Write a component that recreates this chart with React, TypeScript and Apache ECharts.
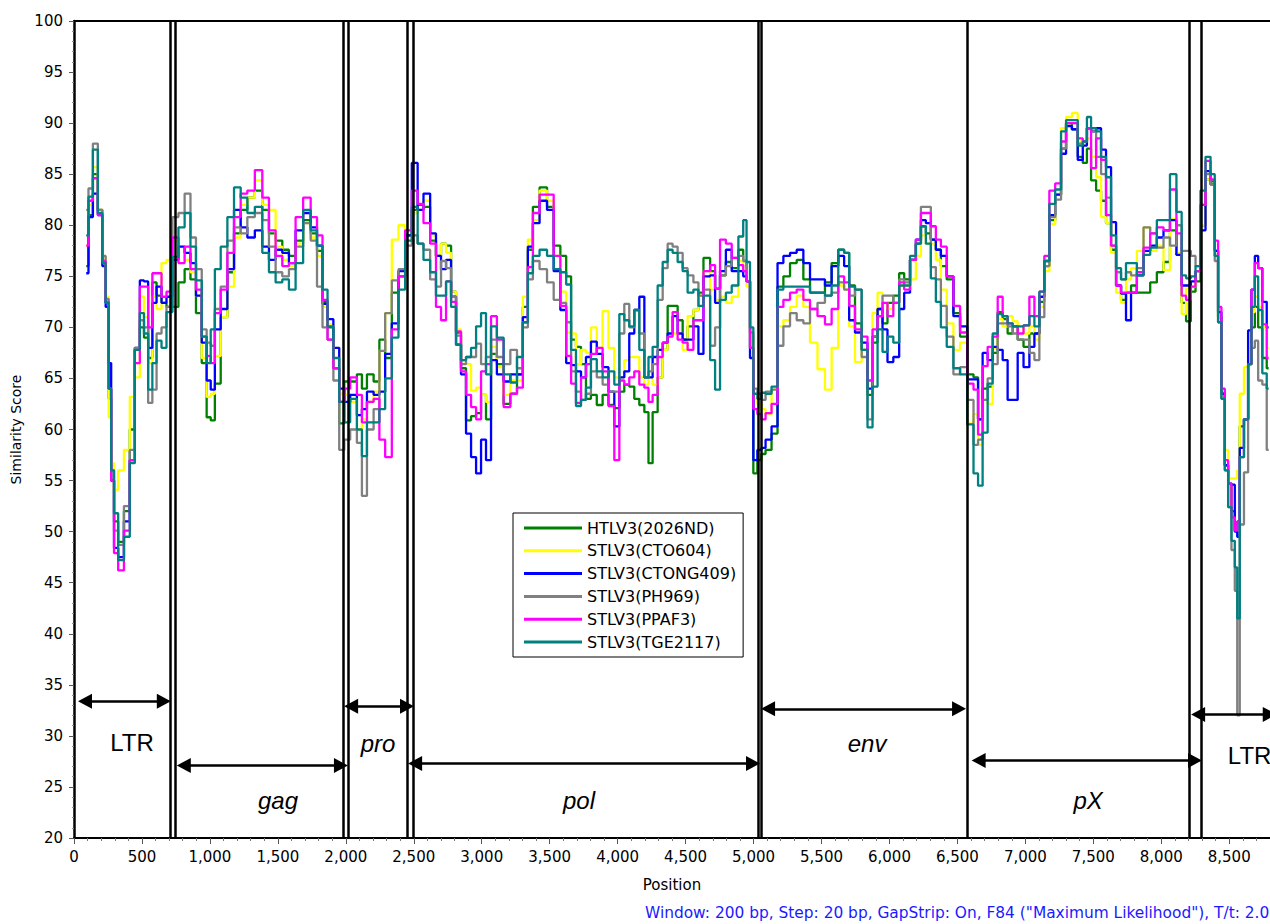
import React, { useEffect, useRef } from "react";
import * as echarts from "echarts";

// Window centre positions (bp)
const POSITIONS = [
  90, 123, 155, 196, 221, 245, 265, 282, 307, 343,
  392, 429, 466, 503, 527, 564, 589, 626, 662, 699,
  750, 787, 841, 873, 922, 958, 994, 1018, 1055, 1104,
  1153, 1202, 1251, 1300, 1361, 1410, 1459, 1508, 1557, 1606,
  1655, 1717, 1766, 1810, 1847, 1884, 1933, 1970, 2007, 2057,
  2106, 2131, 2180, 2229, 2265, 2314, 2363, 2412, 2461, 2510,
  2547, 2596, 2645, 2682, 2719, 2756, 2793, 2829, 2866, 2903,
  2940, 2977, 3013, 3050, 3087, 3136, 3186, 3235, 3284, 3321,
  3358, 3395, 3456, 3505, 3554, 3603, 3640, 3675, 3712, 3749,
  3785, 3822, 3871, 3908, 3957, 3994, 4031, 4067, 4104, 4141,
  4178, 4215, 4239, 4276, 4313, 4350, 4386, 4423, 4460, 4497,
  4533, 4582, 4607, 4656, 4705, 4729, 4778, 4815, 4864, 4913,
  4935, 4962, 4986, 5011, 5045, 5070, 5107, 5158, 5195, 5244,
  5293, 5342, 5391, 5440, 5501, 5550, 5599, 5648, 5685, 5722,
  5771, 5820, 5857, 5894, 5931, 5967, 6004, 6053, 6090, 6127,
  6176, 6213, 6250, 6286, 6323, 6360, 6397, 6446, 6495, 6544,
  6600, 6637, 6667, 6704, 6741, 6778, 6815, 6851, 6888, 6925,
  6962, 7011, 7048, 7085, 7121, 7158, 7195, 7244, 7281, 7318,
  7367, 7404, 7441, 7465, 7502, 7539, 7575, 7612, 7649, 7686,
  7722, 7759, 7796, 7845, 7894, 7943, 7992, 8041, 8087, 8136,
  8164, 8201, 8234, 8270, 8307, 8344, 8381, 8406, 8430, 8455,
  8480, 8504, 8529, 8553, 8565, 8590, 8627, 8651, 8676, 8701,
  8725, 8762, 8790,
];

const HTLV3_2026ND = [
  76, 81, 85, 81.5, 76.3, 72.4, 63, 55, 51, 49,
  52, 60, 67.8, 70, 69, 67, 74.4, 73.1, 72.4, 72,
  72, 74.4, 75.7, 74.7, 71.4, 66.5, 61.2, 60.9, 64.5, 71,
  75.4, 79.2, 81.5, 82.7, 83.4, 81.5, 79.2, 78.5, 77.6, 77,
  78.5, 80.5, 79.2, 77.5, 72.5, 70, 66, 60.6, 64.7, 64.7,
  65.4, 64, 65.4, 64.7, 68.8, 67, 73.4, 75, 79, 81.5,
  82, 81.8, 78.5, 77, 78.2, 78, 73.5, 69.5, 66, 60.9,
  61.3, 61.6, 63.4, 61, 67.4, 66.4, 62.5, 63.5, 65.4, 72,
  77.6, 81.8, 83.7, 81.8, 78, 77, 75, 68.8, 68.1, 66.4,
  63, 63.4, 62.4, 63.4, 62.4, 62.1, 63.7, 64.4, 64.2, 63,
  62.4, 61.7, 56.7, 61.7, 65.1, 67.8, 72.1, 72.1, 70.7, 68.8,
  70.1, 71.7, 73.4, 76.8, 75.5, 73.8, 75.1, 76.4, 75.8, 77.6,
  76.5, 74.5, 68, 55.7, 57, 57.6, 58, 59.6, 74, 75,
  76.3, 76.6, 74.7, 73.4, 73.4, 74.4, 76.3, 77.6, 77.3, 74.1,
  70.4, 67.8, 63.4, 68.5, 71.8, 70.4, 72.4, 73.1, 75.3, 74.7,
  76.6, 78.2, 79.9, 79.2, 78.6, 77.6, 76, 74.7, 71.4, 69.1,
  65.4, 65.1, 61, 64, 64.2, 67.5, 71.5, 70.8, 69.4, 70.1,
  68.8, 68.1, 69.4, 69.4, 72.5, 76, 80.5, 83, 87.5, 90,
  89.4, 86.7, 86.1, 87.5, 84.4, 83.4, 82.4, 80.2, 77.6, 74.1,
  72.7, 73.4, 74.1, 73.4, 73.4, 74.4, 75.4, 76.4, 79.5, 77.1,
  72.4, 70.6, 73.5, 74.5, 80, 84.5, 84.3, 77.5, 71, 63.5,
  56.5, 54.7, 52, 50.1, 51, 60.3, 61, 66.4, 70, 72,
  70, 67, 66,
];

const STLV3_CTO604 = [
  78, 82, 85.7, 81.5, 77, 73, 61.2, 56.7, 54.1, 56,
  58, 63.2, 65.1, 73, 71, 66.5, 73, 71.8, 76.3, 76.6,
  78.5, 77.9, 76.6, 75.4, 73.1, 67, 63.2, 63.5, 67.2, 71,
  74, 78.8, 82, 82.7, 84.4, 82, 81.5, 77.9, 76.6, 76,
  78.2, 80.2, 78.8, 77, 72, 70.3, 68, 63.5, 63.4, 62.7,
  60, 61, 62.7, 63.7, 67.7, 71.4, 78.6, 80, 79.5, 81.2,
  81.5, 82.4, 79, 77, 78.2, 77.3, 73.5, 69.8, 66.7, 66.4,
  63.8, 64.1, 63.4, 62.7, 68.1, 66.1, 63.4, 64.8, 64.8, 73,
  78.6, 80.5, 83.4, 82.4, 77, 73.5, 69.5, 69.4, 66.4, 67.8,
  67.5, 70, 68, 71.6, 68, 65.1, 65.1, 66.8, 67.1, 67.1,
  65.1, 64.4, 65.1, 64.4, 65.1, 67.8, 69.1, 69.4, 69.4, 67.8,
  71.1, 71.7, 73.1, 75.5, 73.7, 72.7, 73, 72.4, 73, 76.5,
  75.5, 74, 69, 63, 62.5, 62, 61.5, 63.9, 70.1, 70.7,
  72, 73.1, 72, 68.5, 65.9, 63.9, 68, 74.1, 73.7, 70.1,
  66.6, 67.8, 64.8, 71.4, 73.4, 72.4, 71.8, 72.4, 74.1, 74.1,
  74.7, 77, 79, 78.2, 78.2, 76.6, 73.7, 70.4, 67.8, 68.5,
  60.6, 61.5, 58.5, 62.9, 62.5, 68, 70.8, 70.1, 71.1, 70.6,
  70.1, 69.4, 70.1, 68.8, 72, 75.5, 80.1, 83, 89.5, 90.6,
  91, 88.2, 88, 88.5, 86.7, 84.7, 80.8, 80.2, 77.3, 73.4,
  72.4, 74.7, 75.8, 77.5, 79.8, 77.5, 78, 75.6, 80.6, 77.3,
  71.3, 73.8, 74, 75.5, 80, 84.5, 84, 77, 71, 64,
  58, 55.2, 55.2, 55.2, 56, 63.5, 66.1, 69.7, 71.5, 73,
  72, 70, 68,
];

const STLV3_CTONG409 = [
  75.3, 80.8, 83.1, 81, 76, 72, 66.5, 55, 48.4, 47.5,
  51, 57, 68, 74.6, 74.5, 68, 72.4, 74, 72.4, 73,
  76.6, 77.9, 77.3, 76.3, 73.1, 68.5, 64.8, 63.9, 69.8, 71.8,
  75.7, 81.5, 79.8, 78.8, 79.5, 77.9, 76.6, 77.6, 77.3, 76.3,
  79.5, 81.2, 79.8, 78, 72.3, 70.8, 68, 64, 62.7, 63.4,
  61.4, 62, 63.7, 63.4, 63.7, 67.4, 70.4, 75.5, 79, 86.1,
  81.5, 83.1, 79.2, 77, 75.7, 76.6, 73, 68.3, 65.4, 59.6,
  57.3, 55.7, 59, 57, 66.8, 65.4, 64.7, 65.4, 65.4, 71,
  77.9, 80.2, 82.4, 81.5, 75.5, 71.7, 66.5, 66.3, 65.7, 65.1,
  67.1, 68.6, 67.4, 66.1, 63.7, 60.3, 65.1, 65.7, 69.4, 71.7,
  73, 65.1, 65.1, 67.1, 67.8, 68.5, 69.4, 71.1, 69.4, 68.8,
  68.8, 70.1, 67.4, 75, 75.1, 72.4, 75.5, 77.6, 75.5, 75.5,
  75, 74.5, 67, 57, 58, 58.2, 59, 60.3, 76.3, 77,
  77.3, 77.6, 76.3, 74.7, 74.7, 74.1, 76, 77, 76, 70.7,
  69.5, 68.5, 64, 69.1, 71.8, 69.8, 66.6, 67.1, 71.8, 73.4,
  76.6, 78.6, 80.5, 80.2, 78.6, 77.6, 77, 75, 71.1, 70.1,
  64.9, 64.9, 61, 67.5, 66.8, 68.1, 67.8, 66.8, 62.9, 62.9,
  67.5, 66.1, 68.1, 69.4, 73, 76.5, 81, 83, 87, 89.7,
  89.4, 86.4, 87.8, 89.5, 89.2, 89.5, 87.4, 85.7, 80.3, 74.1,
  73.3, 70.7, 73.4, 75.1, 77.5, 78, 78.8, 79.5, 80.5, 77.1,
  74.1, 74.1, 74.5, 75.5, 79.5, 85.3, 84, 77.5, 71.5, 63.5,
  56.5, 54.7, 54.6, 50, 49.5, 58.2, 61, 69.7, 73.7, 77,
  75.8, 72.5, 70,
];

const STLV3_PH969 = [
  81.5, 83.6, 88, 81.5, 77, 72.8, 64, 56, 50.1, 48.7,
  52.5, 58, 68, 70.7, 70, 62.6, 63.9, 69.4, 70, 72,
  80.8, 81.2, 83.1, 78.8, 75.7, 69.8, 68.5, 68.2, 71.8, 74,
  78.5, 79.8, 79.2, 80.8, 81.2, 80.5, 77.9, 75.4, 75, 75.7,
  77.9, 80.2, 78.5, 74, 70, 68.8, 64.8, 58, 59, 60,
  58.7, 53.5, 60, 62, 67.7, 71.4, 74.6, 75.7, 78, 79,
  78.2, 77.6, 74.7, 74, 76.5, 75.8, 73, 69.2, 66.4, 67.1,
  67.1, 68.4, 66.4, 67.1, 68.8, 67.1, 66.4, 67.8, 66, 70,
  74.7, 76.5, 75.7, 74.4, 72.7, 72.4, 70.5, 65.7, 63.7, 62.9,
  63.5, 65.7, 65.1, 64.4, 63.7, 63.7, 69.4, 72.3, 70, 71.7,
  69.4, 65.1, 65.7, 66.4, 72.7, 75.8, 78.2, 77.9, 77.3, 75.8,
  75.1, 74.4, 73.1, 73.7, 68.2, 70, 75.1, 76, 76.8, 77,
  76.5, 74.5, 69.5, 64, 63.5, 62.9, 63.7, 63.9, 68.2, 70.1,
  71.4, 70.7, 70.4, 71.8, 72.4, 73.1, 73.4, 74.4, 73.7, 73.1,
  73.7, 67.1, 61, 69.1, 71.1, 73.1, 73.1, 72.4, 74.7, 74.4,
  76.6, 78.2, 81.8, 81.8, 75.9, 74.7, 72.1, 69.1, 65.4, 66.1,
  62.9, 58.5, 59, 62.9, 65, 66.4, 70.4, 70.4, 70.1, 69.4,
  68.8, 68.8, 67.5, 66.8, 71, 76, 80.8, 82.5, 87.5, 90,
  90, 88, 88.2, 89.5, 89.2, 86.7, 85, 82.7, 78, 75.4,
  74.7, 75.4, 75.1, 75.8, 79.8, 79.2, 77.8, 78.8, 78, 80,
  77.5, 77.5, 77, 76, 82, 85, 84, 76.5, 70.5, 63,
  56, 52.4, 48.2, 44.2, 32, 50.7, 55.8, 66.4, 68, 68.7,
  64.8, 64.4, 58,
];

const STLV3_PPAF3 = [
  78, 82.4, 84.6, 81, 76.5, 72.5, 64, 55, 47.9, 46.2,
  50.1, 57, 66.5, 74, 74, 70, 75.3, 75.3, 73, 73.5,
  78.8, 76.3, 77.9, 75.7, 73.7, 69.1, 67.2, 66.5, 71.4, 73.7,
  77.3, 80.8, 83.1, 83.4, 85.4, 82.7, 79.5, 77, 76, 76.3,
  80.8, 82.7, 80.8, 79, 72.7, 68.8, 66, 62.7, 64, 65.1,
  63.4, 60.7, 62.7, 63, 59, 57.3, 69.8, 75, 79.5, 83.4,
  82.1, 80.2, 78.2, 72, 70.7, 74.5, 72.5, 69.6, 65.7, 63.4,
  62.2, 61, 65.7, 66.4, 71.1, 68.8, 62.2, 63.5, 64.1, 70.5,
  75.9, 81.2, 83, 83, 77, 72.1, 67.2, 64.5, 62.6, 65.1,
  66.4, 67.4, 68, 65.7, 62.3, 57, 64.8, 64.4, 65.1, 65.7,
  64.4, 64.1, 62.7, 63.4, 67.1, 68.5, 69.1, 71.5, 68.8, 68.5,
  67.8, 70.7, 70.7, 75.5, 76.1, 73.8, 78.6, 78.2, 76.8, 76.1,
  75.5, 74.5, 68, 62, 61.5, 61, 61.6, 62.5, 72, 72.7,
  73.4, 73.7, 72.7, 71.8, 71.1, 70.3, 71.8, 75, 74.4, 72.1,
  69.8, 69.1, 64.8, 69.8, 71.1, 72.4, 71.1, 72.4, 74.4, 73.7,
  76.6, 78.6, 81.2, 81.2, 79.9, 78.6, 77.9, 75, 72.1, 69.5,
  64.5, 63.9, 59.5, 66.2, 68.1, 69.1, 73, 71.1, 70.4, 70.1,
  69.4, 70.2, 73, 71.1, 73.5, 77, 83.4, 84.1, 88.2, 90,
  90, 88.5, 88.2, 89.5, 85.6, 88.5, 86.4, 81, 78, 74.1,
  73.4, 73.4, 73.4, 75.4, 77.8, 79.2, 79.8, 79.5, 83.5, 79.2,
  73.1, 72.7, 74, 75.5, 82, 86.3, 84.5, 78.5, 72, 64,
  57, 54.7, 51.4, 50.1, 51, 57.3, 61, 66.4, 73.7, 76.3,
  75.8, 70.3, 67,
];

const STLV3_TGE2117 = [
  79, 82.8, 87.4, 81.2, 76.3, 72.4, 64, 56, 51.8, 47.2,
  49.5, 56.7, 67.8, 71.4, 69.4, 63.9, 66.5, 68.7, 68, 71.5,
  76.9, 79.8, 81.2, 77.9, 74.6, 69.1, 66.5, 69.8, 75.7, 77.9,
  80.8, 83.7, 82.7, 81.2, 81.8, 77.3, 75.4, 74.4, 74.7, 73.7,
  76.3, 81.5, 79.5, 78, 73.7, 70.1, 67, 62.7, 60.7, 63,
  60, 57.4, 60.7, 60.7, 62, 65, 69, 73.7, 78.5, 81.8,
  78.2, 76.6, 75.4, 73.1, 73.1, 74.5, 72, 68.3, 66.8, 67.1,
  68, 70.1, 71.4, 65.4, 70.1, 69, 65.4, 64.6, 67.1, 70.5,
  75.3, 77, 77.6, 77, 75.7, 75.4, 74.2, 67.8, 62.3, 62.9,
  64.1, 66.9, 65.7, 65.1, 65.7, 64.4, 71.3, 70.7, 70.1, 71.7,
  67.8, 65.1, 67.1, 68.1, 74.1, 76.4, 77.6, 77.3, 76.4, 75.5,
  73.4, 73.7, 72.1, 73.1, 66.8, 63.9, 72.7, 73.4, 74.1, 78.9,
  80.5, 76.4, 70, 63.5, 63, 63.6, 63.5, 64.2, 73.7, 74,
  74, 74, 74, 73.4, 73.4, 73.1, 74.1, 77.6, 77.3, 74,
  73.7, 67.8, 60.2, 64.2, 69.8, 67.6, 69.1, 68.5, 74.1, 74.1,
  77, 78.2, 79.9, 78.2, 74.8, 72.5, 70, 68.1, 66, 65.4,
  60.5, 55.7, 54.5, 59.7, 64.5, 69.4, 71.3, 71.1, 70.4, 70.1,
  70.1, 70.2, 71.1, 70.1, 73.5, 76.5, 82.1, 83.5, 89.2, 90.3,
  90.3, 87.8, 88.2, 90.6, 89.5, 89.2, 86.7, 84.7, 79, 75.8,
  74.7, 76.3, 76.3, 75.1, 77.1, 77.8, 80.5, 80.5, 85, 81.3,
  75.1, 74.8, 75, 76, 83.4, 86.7, 85, 77, 70.5, 63,
  56, 52.4, 49.1, 46.5, 41.5, 57.3, 61, 66.4, 72, 75,
  71.7, 65.5, 64,
];

const SERIES_NAMES = [
  "HTLV3(2026ND)",
  "STLV3(CTO604)",
  "STLV3(CTONG409)",
  "STLV3(PH969)",
  "STLV3(PPAF3)",
  "STLV3(TGE2117)",
];
const SERIES_VALUES = [
  HTLV3_2026ND,
  STLV3_CTO604,
  STLV3_CTONG409,
  STLV3_PH969,
  STLV3_PPAF3,
  STLV3_TGE2117,
];
const SERIES_COLORS = ["#008000", "#ffff00", "#0000ff", "#808080", "#ff00ff", "#008080"];

// Genome region boundaries (bp)
const REGION_BOUNDARIES = [710, 744, 1978, 2017, 2452, 2498, 5035, 5058, 6576, 8207, 8292];

// Double-headed arrows: start / end (bp) at a similarity level
const ARROW_FROM = [29, 756, 1987, 2458, 5055, 6604, 8219];
const ARROW_TO = [713, 2016, 2502, 5048, 6564, 8300, 8850];
const ARROW_LEVEL = [33.4, 27.1, 32.9, 27.3, 32.65, 27.6, 32.1];

// Region names
const REGION_NAMES = ["LTR", "gag", "pro", "pol", "env", "pX", "LTR"];
const REGION_NAME_POS = [427, 1501, 2237, 3716, 5835, 7462, 8650];
const REGION_NAME_LEVEL = [29.4, 23.7, 29.3, 23.7, 29.3, 23.7, 28.1];
const REGION_NAME_ITALIC = [false, true, true, true, true, true, false];

const X_MIN = 0;
const X_MAX = 8800;
const X_INTERVAL = 500;
const Y_MIN = 20;
const Y_MAX = 100;
const Y_INTERVAL = 5;

const FOOTER = 'Window: 200 bp, Step: 20 bp, GapStrip: On, F84 ("Maximum Likelihood"), T/t: 2.0';

const ARROW_INSET = 52; // half arrow head length in bp units

export default function App() {
  const ref = useRef<HTMLDivElement>(null);

  useEffect(() => {
    if (!ref.current) return;
    const chart = echarts.init(ref.current, null, { renderer: "svg" });
    const font = "DejaVu Sans";

    const dataSeries = SERIES_NAMES.map((name, i) => ({
      name,
      type: "line",
      data: POSITIONS.map((p, j) => [p, SERIES_VALUES[i][j]]),
      showSymbol: false,
      symbol: "none",
      step: "middle",
      lineStyle: { color: SERIES_COLORS[i], width: 2.3 },
      itemStyle: { color: SERIES_COLORS[i] },
      silent: true,
      z: 2,
    }));

    const annotationSeries = {
      type: "line",
      data: [],
      silent: true,
      z: 5,
      markLine: {
        silent: true,
        animation: false,
        symbol: ["none", "none"],
        label: { show: false },
        lineStyle: { color: "#000", width: 2.5, type: "solid" },
        emphasis: { disabled: true },
        data: REGION_BOUNDARIES.map((x) => ({ xAxis: x })),
      },
    };

    const arrowSeries = {
      type: "line",
      data: [],
      silent: true,
      z: 4,
      markLine: {
        silent: true,
        animation: false,
        symbol: ["triangle", "triangle"],
        symbolSize: [15, 14],
        label: { show: false },
        lineStyle: { color: "#000", width: 2.5, type: "solid" },
        emphasis: { disabled: true },
        data: ARROW_FROM.map((f, i) => [
          { coord: [f + ARROW_INSET, ARROW_LEVEL[i]] },
          { coord: [Math.min(ARROW_TO[i] - ARROW_INSET, X_MAX), ARROW_LEVEL[i]] },
        ]),
      },
      markPoint: {
        silent: true,
        animation: false,
        symbol: "circle",
        symbolSize: 1,
        itemStyle: { color: "rgba(0,0,0,0)" },
        data: REGION_NAMES.map((n, i) => ({
          name: n,
          coord: [REGION_NAME_POS[i], REGION_NAME_LEVEL[i]],
          label: {
            show: true,
            position: "inside",
            formatter: n,
            color: "#000",
            fontSize: 24,
            fontFamily: "Liberation Sans",
            fontStyle: REGION_NAME_ITALIC[i] ? "italic" : "normal",
          },
        })),
      },
    };

    chart.setOption({
      animation: false,
      backgroundColor: "#fff",
      grid: { left: 74, right: 0, top: 21, bottom: 86, containLabel: false },
      legend: {
        data: SERIES_NAMES.map((n) => ({ name: n, icon: "rect" })),
        orient: "vertical",
        left: 513,
        top: 513,
        padding: [7, 7, 7, 11],
        itemGap: 6.8,
        itemWidth: 58,
        itemHeight: 3,
        backgroundColor: "#fff",
        borderColor: "#000",
        borderWidth: 1,
        borderRadius: 0,
        selectedMode: false,
        textStyle: { fontFamily: font, fontSize: 16, lineHeight: 16, color: "#000" },
      },
      xAxis: [
        {
          type: "value",
          min: X_MIN,
          max: X_MAX,
          interval: X_INTERVAL,
          name: "Position",
          nameLocation: "middle",
          nameGap: 39,
          nameTextStyle: { fontFamily: font, fontSize: 15, color: "#000" },
          axisLine: { show: true, lineStyle: { color: "#000", width: 2 } },
          axisTick: { show: true, inside: false, length: 6, lineStyle: { color: "#555", width: 1 } },
          minorTick: { show: true, splitNumber: 5, length: 3, lineStyle: { color: "#777", width: 1 } },
          splitLine: { show: false },
          axisLabel: {
            margin: 11,
            showMaxLabel: false,
            fontFamily: font,
            fontSize: 15,
            color: "#000",
            formatter: (v: number) => v.toLocaleString("en-US"),
          },
        },
        {
          type: "value",
          position: "top",
          min: X_MIN,
          max: X_MAX,
          axisLine: { show: true, onZero: false, lineStyle: { color: "#000", width: 2 } },
          axisTick: { show: false },
          axisLabel: { show: false },
          splitLine: { show: false },
        },
      ],
      yAxis: {
        type: "value",
        min: Y_MIN,
        max: Y_MAX,
        interval: Y_INTERVAL,
        name: "Similarity Score",
        nameLocation: "middle",
        nameGap: 51,
        nameTextStyle: { fontFamily: font, fontSize: 14, color: "#000" },
        axisLine: { show: true, lineStyle: { color: "#000", width: 2.5 } },
        axisTick: { show: true, inside: false, length: 5, lineStyle: { color: "#555", width: 1 } },
        minorTick: { show: true, splitNumber: 5, length: 2, lineStyle: { color: "#888", width: 1 } },
        splitLine: { show: false },
        axisLabel: { margin: 11, fontFamily: font, fontSize: 15, color: "#000" },
      },
      graphic: [
        {
          type: "text",
          left: 645,
          top: 905,
          silent: true,
          style: {
            text: FOOTER,
            fill: "#1a1aff",
            fontFamily: font,
            fontSize: 15.4,
          },
        },
      ],
      series: [...dataSeries, arrowSeries, annotationSeries],
    });

    return () => chart.dispose();
  }, []);

  return (
    <div
      ref={ref}
      style={{ position: "absolute", left: 0, top: 0, width: 1270, height: 924, background: "#fff" }}
    />
  );
}
